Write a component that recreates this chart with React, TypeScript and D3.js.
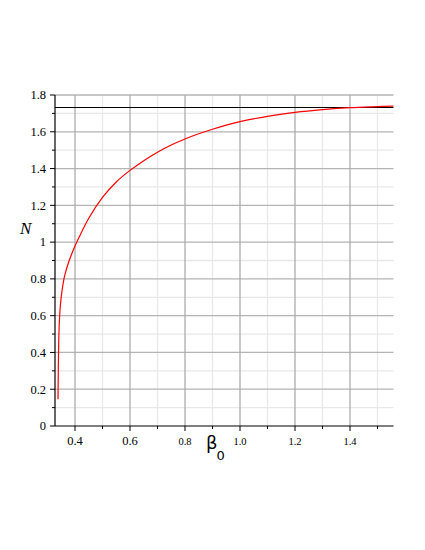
import React from "react";
import * as d3 from "d3";

const beta0 = [0.3382, 0.3393, 0.3407, 0.3429, 0.3465, 0.3527, 0.3625, 0.3771, 0.3953, 0.4135, 0.45, 0.5, 0.55, 0.6, 0.65, 0.7, 0.75, 0.8, 0.85, 0.9, 0.95, 1.0, 1.1, 1.2, 1.3, 1.4, 1.5, 1.558];
const nVals = [0.145, 0.305, 0.45, 0.559, 0.65, 0.735, 0.818, 0.892, 0.962, 1.022, 1.13, 1.243, 1.327, 1.39, 1.443, 1.489, 1.528, 1.561, 1.589, 1.614, 1.636, 1.655, 1.684, 1.705, 1.72, 1.731, 1.737, 1.74];
const limitN = 1.732;
const yTicks = [0, 0.2, 0.4, 0.6, 0.8, 1, 1.2, 1.4, 1.6, 1.8];
const yLabels = ["0", "0.2", "0.4", "0.6", "0.8", "1", "1.2", "1.4", "1.6", "1.8"];
const yMinor = [0.1, 0.3, 0.5, 0.7, 0.9, 1.1, 1.3, 1.5, 1.7];
const xTicks = [0.4, 0.6, 0.8, 1.0, 1.2, 1.4];
const xLabels = ["0.4", "0.6", "0.8", "1.0", "1.2", "1.4"];
const xMinor = [0.5, 0.7, 0.9, 1.1, 1.3, 1.5];

export default function App() {
  const W = 425, H = 550;
  const x = d3.scaleLinear().domain([0.4, 1.4]).range([75, 350]);
  const xMin = x.invert(55), xMax = x.invert(393.5);
  const y = d3.scaleLinear().domain([0, 1.8]).range([426, 95]);
  const left = x(xMin), right = x(xMax);
  const pts = beta0.map((b, i) => [b, nVals[i]] as [number, number]);
  const line = d3.line<[number, number]>().x(d => x(d[0])).y(d => y(d[1])).curve(d3.curveCatmullRom.alpha(0.5));
  const font = "'Liberation Serif', 'Times New Roman', serif";
  return (
    <svg width={W} height={H} style={{ position: "absolute", left: 0, top: 0 }}>
      <rect width={W} height={H} fill="white" />
      {yMinor.map(v => (
        <line key={"ym" + v} x1={left} x2={right} y1={y(v)} y2={y(v)} stroke="#e8e8e8" strokeWidth={1.3} />
      ))}
      {xMinor.map(v => (
        <line key={"xm" + v} x1={x(v)} x2={x(v)} y1={y(0)} y2={y(1.8)} stroke="#e8e8e8" strokeWidth={1.3} />
      ))}
      {yTicks.slice(1).map(v => (
        <line key={"yg" + v} x1={left} x2={right} y1={y(v)} y2={y(v)} stroke="#b4b4b4" strokeWidth={1.3} />
      ))}
      {xTicks.map(v => (
        <line key={"xg" + v} x1={x(v)} x2={x(v)} y1={y(0)} y2={y(1.8)} stroke="#acacac" strokeWidth={1.3} />
      ))}
      <line x1={left} x2={right} y1={y(limitN)} y2={y(limitN)} stroke="black" strokeWidth={1.1} />
      <path d={line(pts) || ""} fill="none" stroke="#ff0000" strokeWidth={1.2} />
      <line x1={left} x2={left} y1={y(0)} y2={y(1.8)} stroke="black" strokeWidth={1.2} />
      <line x1={left} x2={right} y1={y(0)} y2={y(0)} stroke="black" strokeWidth={1.2} />
      {yTicks.map((v, i) => (
        <g key={"yt" + v}>
          <line x1={left - 5} x2={left} y1={y(v)} y2={y(v)} stroke="black" strokeWidth={1} />
          <text x={left - 9} y={y(v)} dy="0.35em" textAnchor="end" fontFamily={font} fontSize={12.5} fill="black">{yLabels[i]}</text>
        </g>
      ))}
      {yMinor.map(v => (
        <line key={"ymt" + v} x1={left - 3} x2={left} y1={y(v)} y2={y(v)} stroke="black" strokeWidth={1} />
      ))}
      {xTicks.map((v, i) => (
        <g key={"xt" + v}>
          <line x1={x(v)} x2={x(v)} y1={y(0)} y2={y(0) + 5} stroke="black" strokeWidth={1} />
          <text x={x(v)} y={445} textAnchor="middle" fontFamily={font} fontSize={i < 2 ? 12.5 : 10.5} fill="black">{xLabels[i]}</text>
        </g>
      ))}
      {xMinor.map(v => (
        <line key={"xmt" + v} x1={x(v)} x2={x(v)} y1={y(0)} y2={y(0) + 3} stroke="black" strokeWidth={1} />
      ))}
      <text x={20} y={234} fontFamily={font} fontStyle="italic" fontSize={17} fill="black">N</text>
      <text x={206} y={449} fontFamily="'DejaVu Sans', sans-serif" fontSize={18} fill="black">β</text>
      <text x={216.5} y={460} fontFamily="'DejaVu Sans', sans-serif" fontSize={13} fill="black">0</text>
    </svg>
  );
}
